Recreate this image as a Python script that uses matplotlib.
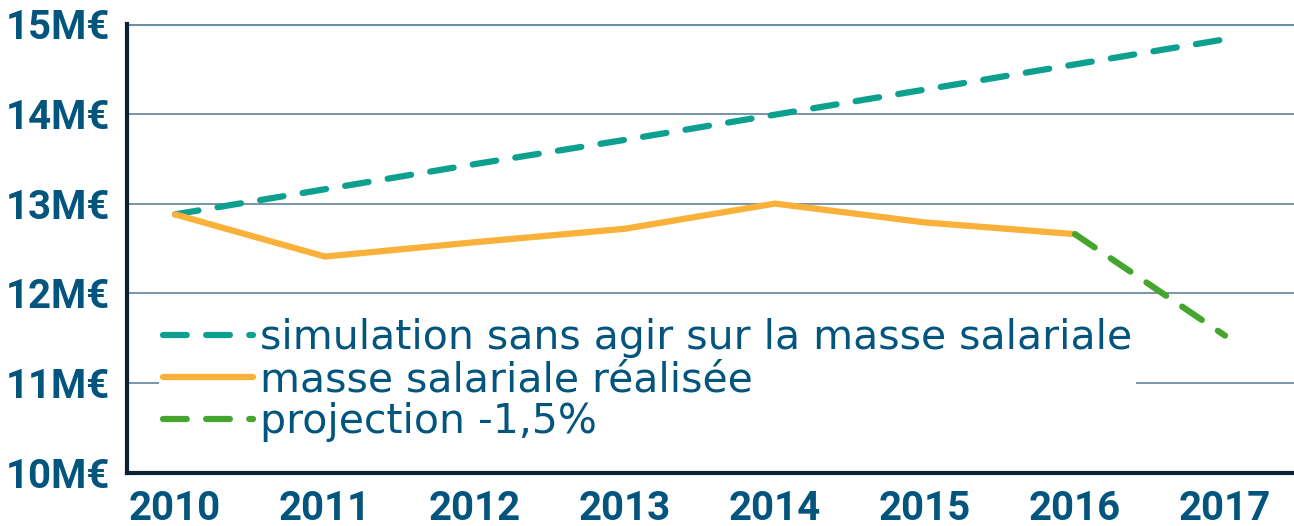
import matplotlib
matplotlib.use("Agg")
import matplotlib.pyplot as plt
from matplotlib.ticker import FixedLocator

# Data (millions of euros)
years = [2010, 2011, 2012, 2013, 2014, 2015, 2016, 2017]
simulation = [12.88, 13.16, 13.44, 13.71, 13.99, 14.27, 14.55, 14.83]
real_years = [2010, 2011, 2012, 2013, 2014, 2015, 2016]
realisee = [12.88, 12.41, 12.57, 12.72, 13.00, 12.79, 12.66]
proj_years = [2016, 2017]
projection = [12.66, 11.53]
y_ticks = [10, 11, 12, 13, 14, 15]
y_labels = ["10M€", "11M€", "12M€", "13M€", "14M€", "15M€"]

text_col = "#03557e"
teal = "#0ea08f"
orange = "#f9b13a"
green = "#45a52e"
grid_col = "#6d8ca5"

plt.rcParams['font.family'] = ['Roboto', 'DejaVu Sans']

fig = plt.figure(figsize=(12.94, 5.26), dpi=100)
ax = fig.add_axes([127 / 1294, 1 - 473 / 526, 1 - 127 / 1294, (473 - 24) / 526])

lw = 4.5
ax.plot(years, simulation, color=teal, lw=lw, dashes=(3.8, 3.1), dash_capstyle="round",
        label="simulation sans agir sur la masse salariale", zorder=3)
ax.plot(real_years, realisee, color=orange, lw=lw, solid_capstyle="round",
        label="masse salariale réalisée", zorder=3)
ax.plot(proj_years, projection, color=green, lw=lw, dashes=(3.8, 3.1), dash_capstyle="round",
        label="projection -1,5%", zorder=4)

ax.set_xlim(2009.68, 2017.46)
ax.set_ylim(10, 15)
ax.set_xticks(years)
ax.set_xticklabels([str(y) for y in years])
ax.yaxis.set_major_locator(FixedLocator(y_ticks))
ax.set_yticklabels(y_labels)

for y in y_ticks[1:]:
    ax.axhline(y, color=grid_col, lw=1.3 if y < 15 else 2.2, zorder=1)

ax.tick_params(length=0, labelsize=29, labelcolor=text_col, pad=12)
for lab in ax.get_xticklabels() + ax.get_yticklabels():
    lab.set_fontweight("bold")

for s in ["top", "right"]:
    ax.spines[s].set_visible(False)
for s in ["left", "bottom"]:
    ax.spines[s].set_linewidth(3)
    ax.spines[s].set_color("#0b2235")

leg = ax.legend(loc="center left", bbox_to_anchor=(0.027, 0.207),
                prop={"family": "DejaVu Sans", "size": 29.5},
                frameon=True, framealpha=1, edgecolor="none", facecolor="white",
                handlelength=2.2, handletextpad=0.17, labelspacing=0.05,
                borderpad=0.1, borderaxespad=0)
for t in leg.get_texts():
    t.set_color(text_col)
leg.set_zorder(2)

fig.savefig("out.png", dpi=100)
